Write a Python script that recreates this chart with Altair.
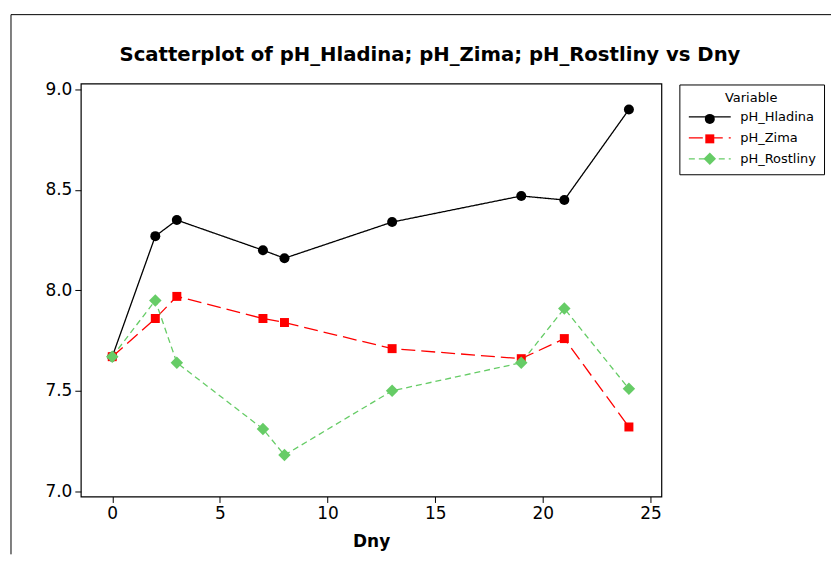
import altair as alt
import pandas as pd

# --- data ---
days = [0, 2, 3, 7, 8, 13, 19, 21, 24]
ph_hladina = [7.67, 8.27, 8.35, 8.20, 8.16, 8.34, 8.47, 8.45, 8.90]
ph_zima = [7.67, 7.86, 7.97, 7.86, 7.84, 7.71, 7.66, 7.76, 7.32]
ph_rostliny = [7.67, 7.95, 7.64, 7.31, 7.18, 7.50, 7.64, 7.91, 7.51]

series_names = ["pH_Hladina", "pH_Zima", "pH_Rostliny"]
series_values = [ph_hladina, ph_zima, ph_rostliny]
series_colors = ["#000000", "#FF0000", "#66CC66"]
series_dash = [[1, 0], [14, 6], [6, 4]]
series_shapes = [
    "circle",
    "M-0.9,-0.9H0.9V0.9H-0.9Z",
    "M0,-1.25L1.25,0L0,1.25L-1.25,0Z",
]

x_ticks = [0, 5, 10, 15, 20, 25]
y_ticks = [7.0, 7.5, 8.0, 8.5, 9.0]

# marker legend uses a separate key so it is not merged with the line legend
marker_keys = [n + " " for n in series_names]

rows = []
for name, key, vals in zip(series_names, marker_keys, series_values):
    for d, v in zip(days, vals):
        rows.append({"Dny": d, "pH": v, "Variable": name, "Marker": key})
df = pd.DataFrame(rows)

FONT = "DejaVu Sans"

x_enc = alt.X(
    "Dny:Q",
    scale=alt.Scale(domain=[-1.46, 25.51], nice=False, zero=False),
    axis=alt.Axis(values=x_ticks, title="Dny", format="d"),
)
y_enc = alt.Y(
    "pH:Q",
    scale=alt.Scale(domain=[6.974, 9.03], nice=False, zero=False),
    axis=alt.Axis(values=y_ticks, title=None, format=".1f"),
)

legend_line = alt.Legend(
    title="Variable",
    orient="none",
    legendX=600,
    legendY=1,
    symbolType="M-1,0H7.4",
    symbolSize=100,
    symbolStrokeWidth=1.3,
    labelOffset=40,
    rowPadding=7,
)
legend_pts = alt.Legend(
    title=None,
    orient="none",
    legendX=624,
    legendY=29,
    labelExpr="''",
    padding=0,
    strokeColor="transparent",
    symbolSize=100,
    symbolStrokeWidth=0,
    rowPadding=6,
)

lines = alt.Chart(df).mark_line(strokeWidth=1.3).encode(
    x=x_enc,
    y=y_enc,
    color=alt.Color(
        "Variable:N",
        scale=alt.Scale(domain=series_names, range=series_colors),
        legend=legend_line,
    ),
    strokeDash=alt.StrokeDash(
        "Variable:N",
        scale=alt.Scale(domain=series_names, range=series_dash),
        legend=legend_line,
    ),
)

points = alt.Chart(df).mark_point(filled=True, opacity=1, size=100).encode(
    x=x_enc,
    y=y_enc,
    fill=alt.Fill(
        "Marker:N",
        scale=alt.Scale(domain=marker_keys, range=series_colors),
        legend=legend_pts,
    ),
    shape=alt.Shape(
        "Marker:N",
        scale=alt.Scale(domain=marker_keys, range=series_shapes),
        legend=legend_pts,
    ),
)

frame_df = pd.DataFrame({"k": [0]})
border_top = alt.Chart(frame_df).mark_rule(color="black", strokeWidth=1).encode(
    x=alt.value(-70), x2=alt.value(752), y=alt.value(-69)
)
border_left = alt.Chart(frame_df).mark_rule(color="black", strokeWidth=1).encode(
    x=alt.value(-70), y=alt.value(-69), y2=alt.value(472)
)

chart = (
    alt.layer(border_top, border_left, lines, points)
    .properties(
        width=582,
        height=414,
        padding={"left": 2, "top": 5, "right": 0, "bottom": 0},
        title=alt.TitleParams(
            "Scatterplot of pH_Hladina; pH_Zima; pH_Rostliny vs Dny",
            anchor="middle",
            frame="bounds",
            font=FONT,
            fontSize=19.7,
            fontWeight="bold",
            color="black",
            dy=55,
            dx=9,
        ),
    )
    .configure_view(stroke="black", strokeWidth=1.2)
    .configure_axis(
        domain=False,
        grid=False,
        ticks=True,
        tickColor="black",
        tickSize=6,
        tickWidth=1,
        labelColor="black",
        labelFont=FONT,
        labelFontSize=17,
        labelPadding=3,
        titleColor="black",
        titleFont=FONT,
        titleFontSize=17,
        titleFontWeight="bold",
    )
    .configure_axisX(titlePadding=12)
    .configure_legend(
        labelFont=FONT,
        labelFontSize=13,
        labelColor="black",
        titleFont=FONT,
        titleFontSize=13,
        titleFontWeight="normal",
        titleColor="black",
        titleAnchor="middle",
        padding=8,
        strokeColor="black",
        strokeWidth=1,
    )
)

chart.save("out.html", embed_options={"renderer": "svg", "actions": False})
